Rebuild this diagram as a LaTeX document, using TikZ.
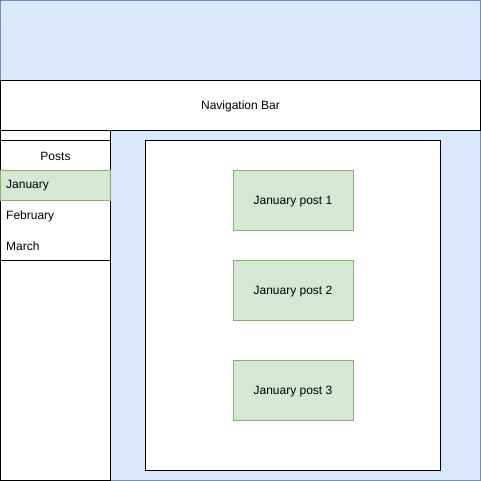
\documentclass[tikz,border=0pt]{standalone}
\usepackage{fontspec}
\setmainfont{Liberation Sans}
\definecolor{bluefill}{HTML}{DAE8FC}
\definecolor{blueline}{HTML}{6C8EBF}
\definecolor{greenfill}{HTML}{D5E8D4}
\definecolor{greenline}{HTML}{82B366}
\tikzset{
  box/.style={draw=black, fill=white, line width=1pt},
  post/.style={draw=greenline, fill=greenfill, line width=1pt},
  lbl/.style={font=\fontsize{12}{14}\selectfont, inner sep=0pt},
}
\begin{document}
\begin{tikzpicture}[x=1pt,y=-1pt]
\useasboundingbox (0,0) rectangle (481,481);
% outer frame
\draw[fill=bluefill, draw=blueline, line width=1pt] (0.5,0.5) rectangle (480.5,480.5);
% navigation bar
\draw[box] (0.5,80.5) rectangle (480.5,130.5);
\node[lbl] (nav) at (240.5,106) {Navigation Bar};
% sidebar
\draw[box] (0.5,130.5) rectangle (110.5,480.5);
\draw[line width=1pt] (0.5,140.5) -- (110.5,140.5);
\node[lbl] (posts) at (55.5,156) {Posts};
\draw[post] (0.5,170.5) rectangle (110.5,200.5);
\node[lbl, anchor=west] (jan) at (6,186) {January};
\node[lbl, anchor=west] (feb) at (6,216) {February};
\node[lbl, anchor=west] (mar) at (6,246) {March};
\draw[line width=1pt] (0.5,260.5) -- (110.5,260.5);
% main content
\draw[box] (145.5,140.5) rectangle (440.5,470.5);
\node[post, minimum width=120pt, minimum height=60pt] (p1) at (293,200.5) {};
\node[lbl] at ([yshift=-0.8pt]p1.center) {January post 1};
\node[post, minimum width=120pt, minimum height=60pt] (p2) at (293,290.5) {};
\node[lbl] at ([yshift=-0.8pt]p2.center) {January post 2};
\node[post, minimum width=120pt, minimum height=60pt] (p3) at (293,390.5) {};
\node[lbl] at ([yshift=-0.8pt]p3.center) {January post 3};
\end{tikzpicture}
\end{document}
